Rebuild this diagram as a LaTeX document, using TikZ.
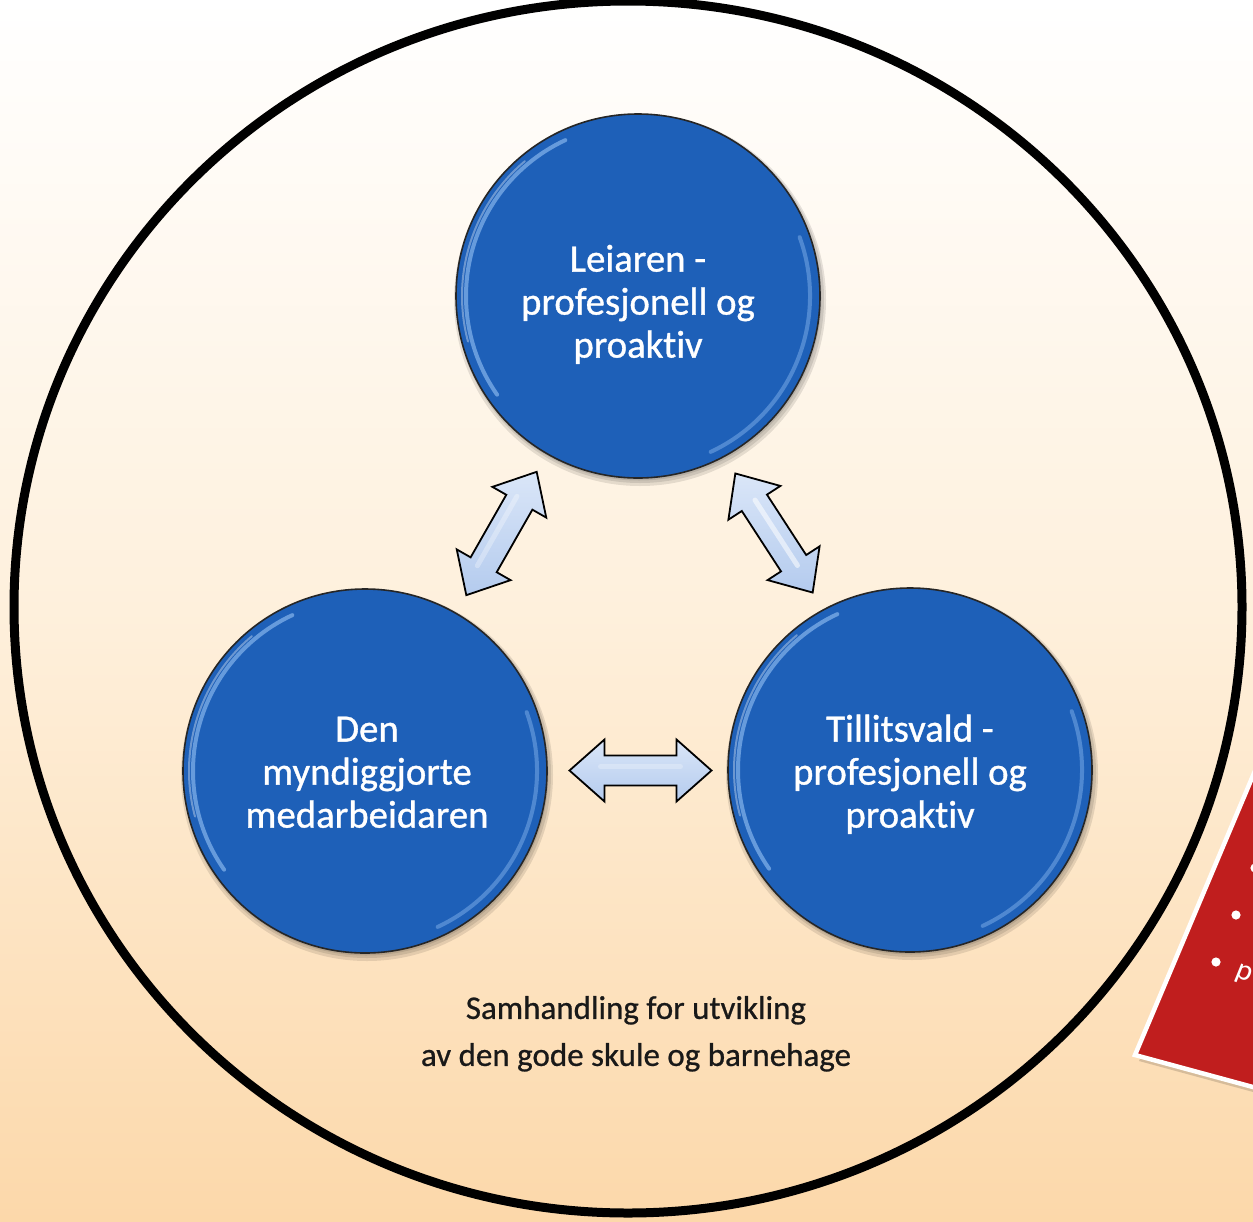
\documentclass[tikz,border=0pt]{standalone}
\usepackage{fontspec}
\setmainfont{Carlito}[Ligatures=NoCommon]
\newfontfamily\ballfont{Carlito}[Ligatures=NoCommon, FakeBold=0.9]
\newfontfamily\capfont{Carlito}[Ligatures=NoCommon, FakeBold=0.7]
\usetikzlibrary{calc}
\definecolor{bgtop}{RGB}{255,255,255}
\definecolor{bgmid}{RGB}{254,240,220}
\definecolor{bgbot}{RGB}{252,216,170}
\definecolor{ballblue}{RGB}{30,96,184}
\definecolor{ballrim}{RGB}{120,170,230}
\definecolor{arrowfill}{RGB}{180,203,238}
\definecolor{arrowlight}{RGB}{218,230,248}
\definecolor{cardred}{RGB}{192,30,30}
\definecolor{capt}{RGB}{25,25,25}
\tikzset{
  ball/.style={circle, fill=ballblue, draw=black!85, line width=1.6pt,
    minimum size=364pt, inner sep=0pt},
  balltext/.style={align=center, text=white, inner sep=0pt,
    font=\ballfont\fontsize{38.8}{43}\selectfont},
  ballshadow/.style={fill=black, opacity=0.10},
  rimlight/.style={draw=ballrim, line width=4pt, opacity=0.8, line cap=round},
  blockarrow/.style={draw=black, line width=1.8pt, line join=miter,
    top color=arrowlight, bottom color=arrowfill},
  arrowshine/.style={draw=white, line width=5pt, opacity=0.55, line cap=round},
  caption/.style={text=capt, align=center, inner sep=0pt, font=\capfont\fontsize{33}{47}\selectfont},
}
\newcommand{\dblarrowshape}{(71,0) -- (36,31) -- (36,15) -- (-36,15) -- (-36,31) -- (-71,0) -- (-36,-31) -- (-36,-15) -- (36,-15) -- (36,-31) -- cycle}
\begin{document}
\begin{tikzpicture}[x=1pt,y=1pt]
\clip (0,-1221) rectangle (1253,0);
% background
\fill[top color=bgtop, bottom color=bgbot, middle color=bgmid] (0,-1221) rectangle (1253,0);
% red card (partly visible)
\fill[black, opacity=0.15] (1139,-1061) -- (1272,-746) -- (1300,-746) -- (1300,-1101) -- (1279,-1099) -- cycle;
\draw[fill=cardred, draw=white, line width=4.5pt, line join=miter]
  (1135,-1055) -- (1268,-740) -- (1300,-740) -- (1300,-1095) -- (1275,-1093) -- cycle;
\fill[white] (1255,-868) circle (4.6);
\fill[white] (1236,-915) circle (4.6);
\fill[white] (1216,-962) circle (4.6);
\node[text=white, font=\fontsize{30}{36}\selectfont, rotate=-22, inner sep=0pt] (pfrag) at (1244,-975) {p};
% big circle
\draw[line width=9pt, black] (628,-607) ellipse [x radius=614, y radius=606];
% shadows of balls
\foreach \cx/\cy in {638/-296,365/-771,910/-770}{
  \fill[ballshadow] (\cx+2,\cy-4) circle (186);
  \fill[ballshadow] (\cx+2,\cy-3) circle (184);
  \fill[ballshadow] (\cx+1,\cy-2) circle (182.5);
}
% balls
\node[ball] (top) at (638,-296) {};
\node[ball] (left) at (365,-771) {};
\node[ball] (right) at (910,-770) {};
% glossy rims
\foreach \n in {top,left,right}{
  \draw[rimlight] (\n.center) ++(115:172) arc[start angle=115, end angle=215, radius=172];
  \draw[rimlight, opacity=0.55] (\n.center) ++(-65:172) arc[start angle=-65, end angle=20, radius=172];
  \draw[draw=white, opacity=0.35, line width=2pt, line cap=round] (\n.center) ++(130:176) arc[start angle=130, end angle=195, radius=176];
}
% texts in balls
\node[balltext] (toptext) at ($(top)+(0,-10)$) {\strut Leiaren -\\\strut profesjonell og\\\strut proaktiv};
\node[balltext] (lefttext) at ($(left)+(2,-5)$) {\strut Den\\\strut myndiggjorte\\\strut medarbeidaren};
\node[balltext] (righttext) at ($(right)+(0,-6)$) {\strut Tillitsvald -\\\strut profesjonell og\\\strut proaktiv};
% arrows between balls
\coordinate (mL) at ($(left)!0.5!(top)$);
\coordinate (mR) at ($(right)!0.5!(top)$);
\coordinate (mH) at ($(left)!0.5!(right)+(3,0)$);
\begin{scope}[shift={(mL)}, rotate=60.3]
  \draw[blockarrow] \dblarrowshape;
  \draw[arrowshine, opacity=0.3] (-40,5) -- (40,5);
\end{scope}
\begin{scope}[shift={(mR)}, rotate=-57]
  \draw[blockarrow] \dblarrowshape;
  \draw[arrowshine] (-38,2) -- (40,2);
\end{scope}
\begin{scope}[shift={(mH)}]
  \draw[blockarrow] \dblarrowshape;
  \draw[arrowshine, opacity=0.25] (-40,4) -- (40,4);
\end{scope}
% caption
\node[caption] (cap) at (636,-1033) {\strut Samhandling for utvikling\\\strut av den gode skule og barnehage};
\end{tikzpicture}
\end{document}
